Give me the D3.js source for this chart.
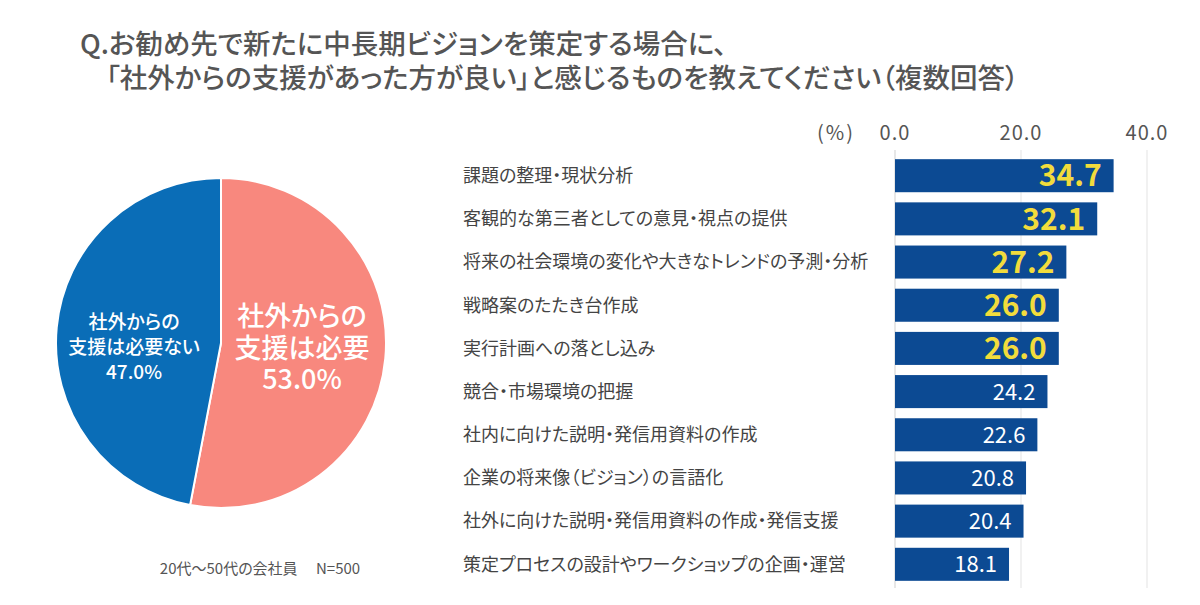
<!DOCTYPE html>
<html>
<head>
<meta charset="utf-8">
<script src="https://cdn.jsdelivr.net/npm/d3@7"></script>
<style>
  body { margin: 0; background: #fff; }
  svg { display: block; }
  text { font-family: "Noto Sans CJK JP", "Noto Sans", sans-serif; font-feature-settings: "palt"; }
</style>
</head>
<body>
<script>
// data
const pieLabels = [['社外からの', '支援は必要', '53.0%'], ['社外からの', '支援は必要ない', '47.0%']];
const pieValues = [53.0, 47.0];
const pieColors = ['#f8887e', '#0a6db7'];

const categories = [
  '課題の整理・現状分析',
  '客観的な第三者としての意見・視点の提供',
  '将来の社会環境の変化や大きなトレンドの予測・分析',
  '戦略案のたたき台作成',
  '実行計画への落とし込み',
  '競合・市場環境の把握',
  '社内に向けた説明・発信用資料の作成',
  '企業の将来像（ビジョン）の言語化',
  '社外に向けた説明・発信用資料の作成・発信支援',
  '策定プロセスの設計やワークショップの企画・運営'
];
const values = [34.7, 32.1, 27.2, 26.0, 26.0, 24.2, 22.6, 20.8, 20.4, 18.1];
const tickValues = [0, 20, 40];
const topN = 5;

const svg = d3.select(document.body).append('svg')
  .attr('width', 1200).attr('height', 605);

// title
const title = svg.append('g').attr('fill', '#555').attr('font-size', 27.5).attr('font-weight', 500);
title.append('text').attr('x', 80).attr('y', 54).text('Q.お勧め先で新たに中長期ビジョンを策定する場合に、');
title.append('text').attr('x', 106).attr('y', 88).text('「社外からの支援があった方が良い」と感じるものを教えてください（複数回答）');

// pie
const pieG = svg.append('g').attr('transform', 'translate(221,343)');
const arcs = d3.pie().sort(null)(pieValues);
const arc = d3.arc().innerRadius(0).outerRadius(165);
pieG.selectAll('path').data(arcs).join('path')
  .attr('d', arc)
  .attr('fill', (d, i) => pieColors[i])
  .attr('stroke', '#fff')
  .attr('stroke-width', 2);

// labels inside slices
const pieText = [
  {x: 81, ys: [-26, 6, 37], size: 27},
  {x: -87, ys: [-21, 4, 29], size: 19}
];
pieText.forEach((p, i) => {
  const t = pieG.append('text').attr('text-anchor', 'middle').attr('fill', '#fff')
    .attr('font-size', p.size).attr('font-weight', 500);
  pieLabels[i].forEach((line, j) => {
    t.append('tspan').attr('x', p.x).attr('y', p.ys[j]).attr('dy', '0.35em').text(line);
  });
});

svg.append('text').attr('x', 260).attr('y', 569).attr('dy', '0.35em')
  .attr('text-anchor', 'middle').attr('fill', '#555').attr('font-size', 15)
  .attr('xml:space', 'preserve')
  .text('20代～50代の会社員　 N=500');

// bar chart
const x = d3.scaleLinear().domain([0, 40]).range([895, 1147]);
const y = d3.scaleBand().domain(categories).range([154, 586]).paddingInner(0.235).paddingOuter(0.12);

svg.append('g').selectAll('line').data(tickValues).join('line')
  .attr('x1', d => x(d)).attr('x2', d => x(d))
  .attr('y1', 150).attr('y2', 588)
  .attr('stroke', d => d === 0 ? '#cfcfcf' : '#e3e3e3')
  .attr('stroke-width', 1);

svg.append('g').selectAll('text').data(tickValues).join('text')
  .attr('x', d => x(d)).attr('y', 133).attr('dy', '0.35em')
  .attr('text-anchor', 'middle').attr('fill', '#555').attr('font-size', 20)
  .attr('font-family', 'DejaVu Sans').attr('letter-spacing', 1)
  .text(d => d3.format('.1f')(d));
svg.append('text').attr('x', 836).attr('y', 133).attr('dy', '0.35em')
  .attr('text-anchor', 'middle').attr('fill', '#555').attr('font-size', 20)
  .attr('letter-spacing', 2)
  .text('(%)');

svg.append('g').selectAll('rect').data(values).join('rect')
  .attr('x', x(0))
  .attr('y', (d, i) => y(categories[i]))
  .attr('width', d => x(d) - x(0))
  .attr('height', y.bandwidth())
  .attr('fill', '#0c4a93');

svg.append('g').selectAll('text').data(values).join('text')
  .attr('x', d => x(d) - 12)
  .attr('y', (d, i) => y(categories[i]) + y.bandwidth() / 2)
  .attr('dy', '0.36em')
  .attr('text-anchor', 'end')
  .attr('fill', (d, i) => i < topN ? '#f2dc3c' : '#fff')
  .attr('font-size', (d, i) => i < topN ? 30 : 22)
  .attr('font-weight', (d, i) => i < topN ? 700 : 400)
  .text(d => d3.format('.1f')(d));

svg.append('g').selectAll('text').data(categories).join('text')
  .attr('x', 463)
  .attr('y', d => y(d) + y.bandwidth() / 2)
  .attr('dy', '0.35em')
  .attr('fill', '#444').attr('font-size', 18)
  .text(d => d);
</script>
</body>
</html>
